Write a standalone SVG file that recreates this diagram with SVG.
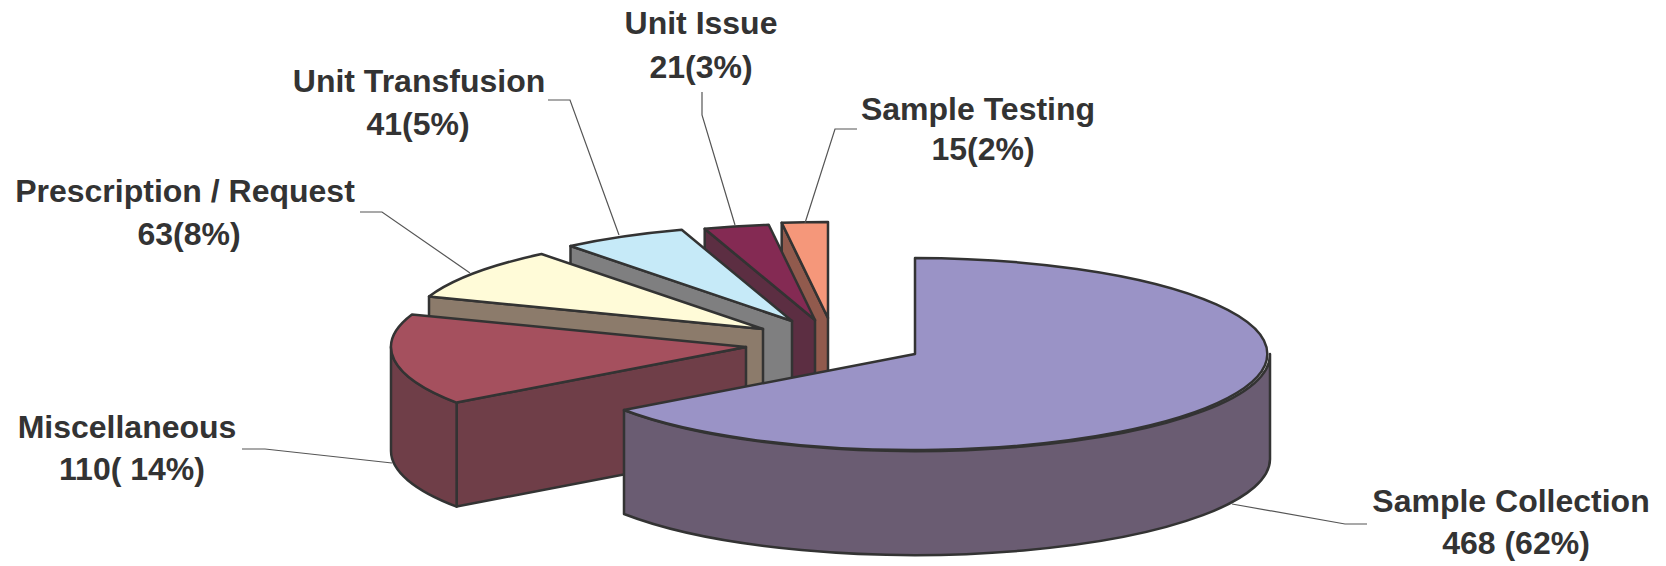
<svg xmlns="http://www.w3.org/2000/svg" width="1666" height="566" viewBox="0 0 1666 566">
<style>
.f{stroke:#333;stroke-width:2.5;stroke-linejoin:round}
.lead{fill:none;stroke:#555;stroke-width:1.2}
.t{font-family:"Liberation Sans",Arial,sans-serif;font-weight:bold;font-size:32px;fill:#333;text-anchor:middle}
</style>
<rect width="1666" height="566" fill="#fff"/>
<g id="slice-sample-testing">
<path class="f" fill="#915A4D" d="M781.7,222.8 L828,318 L828,422 L781.7,326.8 Z"/>
<path class="f" fill="#F5977A" d="M828,318 L781.7,222.8 A355 96 0 0 1 828,222 Z"/>
</g>
<g id="slice-unit-issue">
<path class="f" fill="#5C2E42" d="M704.7,228.8 L815,320 L815,424 L704.7,332.8 Z"/>
<path class="f" fill="#842A53" d="M815,320 L704.7,228.8 A355 96 0 0 1 768.7,224.8 Z"/>
</g>
<g id="slice-unit-transfusion">
<path class="f" fill="#7F7F80" d="M570.5,246 L792,321 L792,425 L570.5,350 Z"/>
<path class="f" fill="#C6EAF8" d="M792,321 L570.5,246 A355 96 0 0 1 681.7,229.8 Z"/>
</g>
<g id="slice-prescription">
<path class="f" fill="#8C7B6B" d="M429,296.5 L763,329 L763,433 L429,400.5 Z"/>
<path class="f" fill="#FFFBD8" d="M763,329 L429,296.5 A355 96 0 0 1 541.5,254 Z"/>
</g>
<g id="slice-miscellaneous">
<path class="f" fill="#6F3E48" d="M456.6,402.6 L746,347 L746,451 L456.6,506.6 Z"/>
<path class="f" fill="#6F3E48" d="M456.6,402.6 A355 96 0 0 1 391,347 L391,451 A355 96 0 0 0 456.6,506.6 Z"/>
<path class="f" fill="#A5505E" d="M746,347 L456.6,402.6 A355 96 0 0 1 412,314.5 Z"/>
</g>
<g id="slice-sample-collection">
<path class="f" fill="#6A5C72" d="M1270,354 A355 96 0 0 1 624,410 L624,514 A355 96 0 0 0 1270,458 Z"/>
<path class="f" fill="#9A93C6" d="M915,354 L915,258 A355 96 0 1 1 624,410 Z"/>
</g>
<g id="connectors">
<polyline class="lead" points="1367,524 1345,524 1232,504"/>
<polyline class="lead" points="242,449 265,449 392,463"/>
<polyline class="lead" points="360,212 382,212 470,273"/>
<polyline class="lead" points="548,100 570,100 619,235"/>
<polyline class="lead" points="702,92 702,115 735,225"/>
<polyline class="lead" points="857,129 835,129 805,223"/>
</g>
<g id="label-unit-issue"><text class="t" x="701" y="34">Unit Issue</text><text class="t" x="701" y="78">21(3%)</text></g>
<g id="label-unit-transfusion"><text class="t" x="419" y="92">Unit Transfusion</text><text class="t" x="418" y="135">41(5%)</text></g>
<g id="label-sample-testing"><text class="t" x="978" y="120">Sample Testing</text><text class="t" x="983" y="160">15(2%)</text></g>
<g id="label-prescription"><text class="t" x="185" y="202">Prescription / Request</text><text class="t" x="189" y="245">63(8%)</text></g>
<g id="label-miscellaneous"><text class="t" x="127" y="438">Miscellaneous</text><text class="t" x="132" y="480">110( 14%)</text></g>
<g id="label-sample-collection"><text class="t" x="1511" y="512">Sample Collection</text><text class="t" x="1516" y="554">468 (62%)</text></g>
</svg>
